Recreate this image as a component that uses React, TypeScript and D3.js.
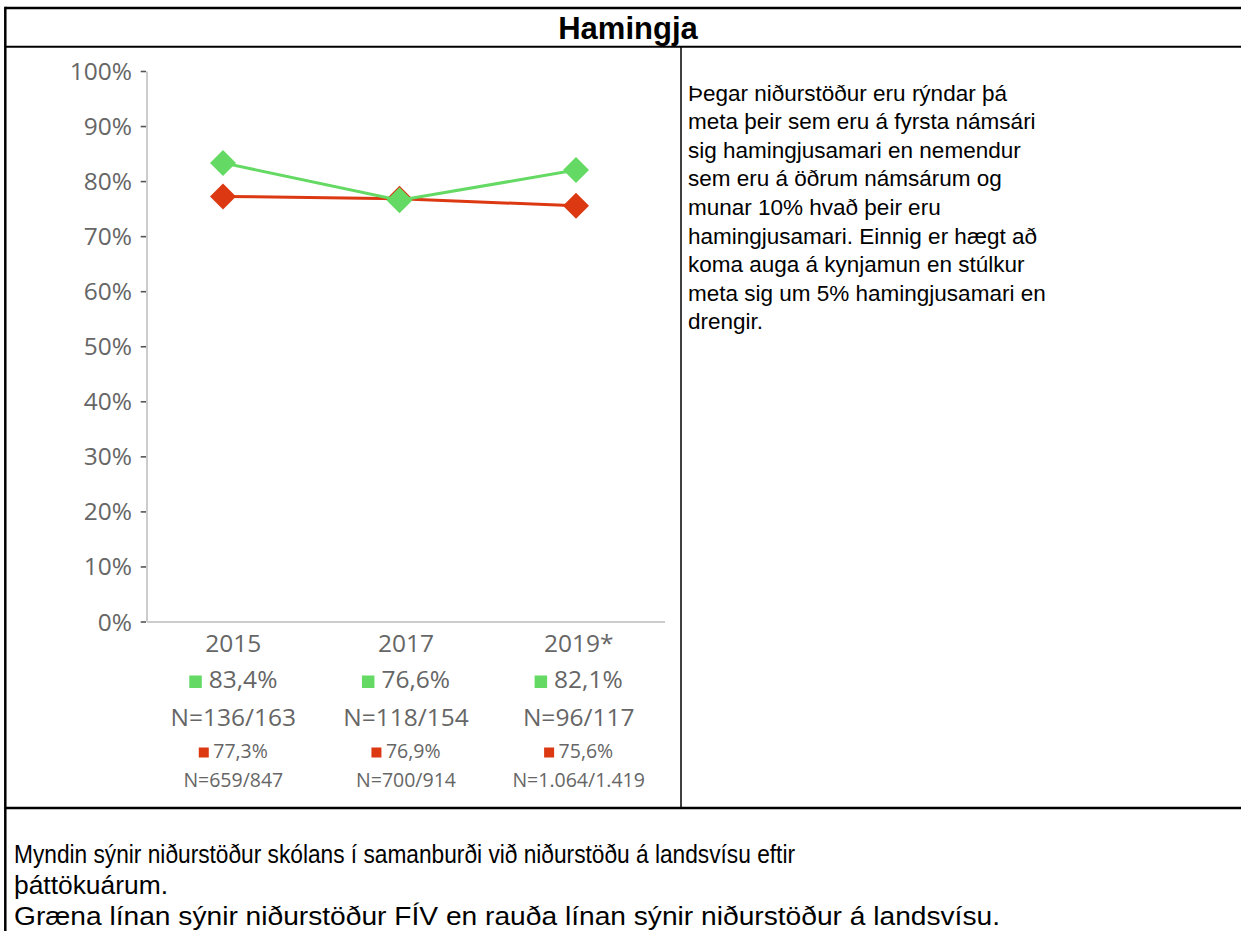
import React from "react";
import * as d3 from "d3";

const categories = ["2015", "2017", "2019*"];
const schoolValues = [83.4, 76.6, 82.1];
const nationalValues = [77.3, 76.9, 75.6];
const schoolN = ["N=136/163", "N=118/154", "N=96/117"];
const nationalN = ["N=659/847", "N=700/914", "N=1.064/1.419"];
const yTicks = [0, 10, 20, 30, 40, 50, 60, 70, 80, 90, 100];

const titleText = "Hamingja";
const sideLines = [
  "Þegar niðurstöður eru rýndar þá",
  "meta þeir sem eru á fyrsta námsári",
  "sig hamingjusamari en nemendur",
  "sem eru á öðrum námsárum og",
  "munar 10% hvað þeir eru",
  "hamingjusamari. Einnig er hægt að",
  "koma auga á kynjamun en stúlkur",
  "meta sig um 5% hamingjusamari en",
  "drengir.",
];
const bottomLines = [
  "Myndin sýnir niðurstöður skólans í samanburði við niðurstöðu á landsvísu eftir",
  "þáttökuárum.",
  "Græna línan sýnir niðurstöður FÍV en rauða línan sýnir niðurstöður á landsvísu.",
];
const bottomLineWidths = [781, 154, 986];

const GREEN = "#64da64";
const RED = "#dc3812";
const LABEL = "#666666";
const CHART_FONT = "'Open Sans', 'Segoe UI', sans-serif";
const DOC_FONT = "'Liberation Sans', Arial, sans-serif";

let canvasCtx: CanvasRenderingContext2D | null = null;
function measure(text: string, size: number, family: string): number {
  if (!canvasCtx) {
    const c = document.createElement("canvas");
    canvasCtx = c.getContext("2d");
  }
  if (!canvasCtx) return text.length * size * 0.55;
  canvasCtx.font = `${size}px ${family}`;
  return canvasCtx.measureText(text).width;
}

const fmt = (v: number) => d3.format(".1f")(v).replace(".", ",") + "%";

export default function App() {
  const W = 1241;
  const H = 931;

  const axisLeft = 147;
  const axisRight = 665;
  const y = d3.scaleLinear().domain([0, 100]).range([622, 71.5]);
  const xBand = d3.scaleBand<string>().domain(categories).range([axisLeft, axisRight]);
  const xPt = d3.scalePoint<string>().domain(categories).range([223, 576]);

  const lineGen = d3
    .line<number>()
    .x((_, i) => xPt(categories[i]) as number)
    .y((v) => y(v));

  const diamond = d3.symbol().type(d3.symbolSquare).size(338)();

  const series = [
    { values: nationalValues, color: RED },
    { values: schoolValues, color: GREEN },
  ];

  const bigSize = 24.5;
  const smallSize = 19.5;

  return (
    <svg
      width={W}
      height={H}
      style={{ position: "absolute", left: 0, top: 0, background: "#fff" }}
    >
      <rect x={0} y={0} width={W} height={H} fill="#fff" />

      {/* table lines */}
      <line x1={5.3} y1={8} x2={W} y2={8} stroke="#000" strokeWidth={2.5} />
      <line x1={5.3} y1={6.8} x2={5.3} y2={H} stroke="#000" strokeWidth={2.5} />
      <line x1={5.3} y1={46.8} x2={W} y2={46.8} stroke="#000" strokeWidth={2} />
      <line x1={681} y1={46.8} x2={681} y2={808} stroke="#000" strokeWidth={1.5} />
      <line x1={5.3} y1={808} x2={W} y2={808} stroke="#000" strokeWidth={2.5} />

      {/* title */}
      <text
        x={628}
        y={38.5}
        textAnchor="middle"
        fontFamily={DOC_FONT}
        fontWeight="bold"
        fontSize={31}
        fill="#000"
      >
        {titleText}
      </text>

      {/* axes */}
      <line x1={axisLeft} y1={y(100)} x2={axisLeft} y2={y(0)} stroke="#cccccc" strokeWidth={2} />
      <line x1={axisLeft} y1={y(0)} x2={axisRight} y2={y(0)} stroke="#cccccc" strokeWidth={2} />
      {yTicks.map((t) => (
        <g key={t}>
          <line x1={140.7} y1={y(t)} x2={146} y2={y(t)} stroke="#555" strokeWidth={1.6} />
          <text
            x={132}
            y={y(t) + 8.5}
            textAnchor="end"
            fontFamily={CHART_FONT}
            fontSize={bigSize}
            fill={LABEL}
          >
            {t + "%"}
          </text>
        </g>
      ))}

      {/* series */}
      {series.map((s, si) => (
        <g key={si}>
          <path d={lineGen(s.values) || ""} fill="none" stroke={s.color} strokeWidth={3} />
          {s.values.map((v, i) => (
            <path
              key={i}
              d={diamond || ""}
              transform={`translate(${xPt(categories[i])},${y(v)}) rotate(45)`}
              fill={s.color}
            />
          ))}
        </g>
      ))}

      {/* category labels */}
      {categories.map((c, i) => {
        const cx = (xBand(c) as number) + xBand.bandwidth() / 2;
        const gLabel = fmt(schoolValues[i]);
        const rLabel = fmt(nationalValues[i]);
        const gw = measure(gLabel, bigSize, CHART_FONT);
        const rw = measure(rLabel, smallSize, CHART_FONT);
        const gSq = 12.5;
        const gGap = 7;
        const rSq = 10;
        const rGap = 4.5;
        const gStart = cx - (gSq + gGap + gw) / 2;
        const rStart = cx - (rSq + rGap + rw) / 2;
        return (
          <g key={c} fontFamily={CHART_FONT} fill={LABEL}>
            <text x={cx} y={652} textAnchor="middle" fontSize={bigSize}>
              {c}
            </text>
            <rect x={gStart} y={675.5} width={gSq} height={gSq} fill={GREEN} />
            <text x={gStart + gSq + gGap} y={687.5} fontSize={bigSize}>
              {gLabel}
            </text>
            <text x={cx} y={725.5} textAnchor="middle" fontSize={bigSize}>
              {schoolN[i]}
            </text>
            <rect x={rStart} y={747.5} width={rSq} height={rSq} fill={RED} />
            <text x={rStart + rSq + rGap} y={757.5} fontSize={smallSize}>
              {rLabel}
            </text>
            <text x={cx} y={786.5} textAnchor="middle" fontSize={smallSize}>
              {nationalN[i]}
            </text>
          </g>
        );
      })}

      {/* side text */}
      {sideLines.map((l, i) => (
        <text
          key={i}
          x={688}
          y={100.5 + i * 28.6}
          fontFamily={DOC_FONT}
          fontSize={22.5}
          fill="#000"
        >
          {l}
        </text>
      ))}

      {/* bottom text */}
      {bottomLines.map((l, i) => (
        <text
          key={i}
          x={14}
          y={863 + i * 31}
          fontFamily={DOC_FONT}
          fontSize={25}
          fill="#000"
          textLength={bottomLineWidths[i]}
          lengthAdjust="spacingAndGlyphs"
        >
          {l}
        </text>
      ))}
    </svg>
  );
}
